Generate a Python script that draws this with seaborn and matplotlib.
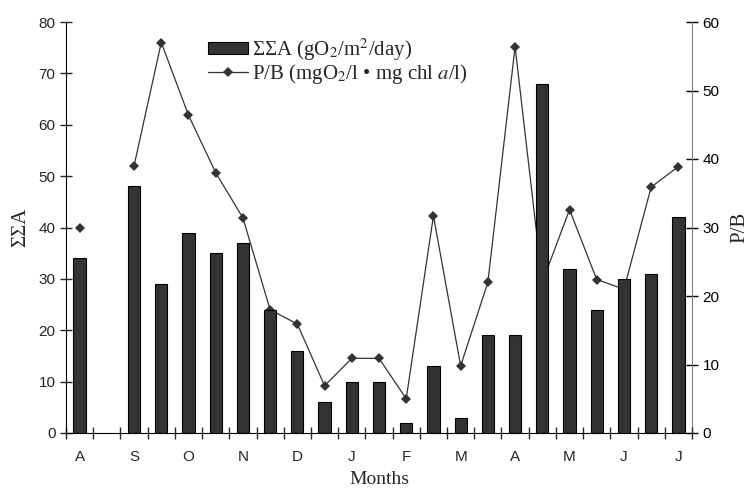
import numpy as np
import pandas as pd
import matplotlib.pyplot as plt
import seaborn as sns
from matplotlib.lines import Line2D
from matplotlib.patches import Patch

# 23 half-month slots, month letter on every other slot
SLOTS = list(range(23))
MONTHS = ["A", "S", "O", "N", "D", "J", "F", "M", "A", "M", "J", "J"]

# sum of assimilation (left axis), no sample in slot 1
SSA_SLOTS = [0, 2, 3, 4, 5, 6, 7, 8, 9, 10, 11, 12, 13, 14, 15, 16, 17, 18, 19, 20, 21, 22]
SSA = [34, 48, 29, 39, 35, 37, 24, 16, 6, 10, 10, 2, 13, 3, 19, 19, 68, 32, 24, 30, 31, 42]

# P/B ratio (right axis); slot 0 stands alone, the rest is one run
PB_SLOTS = [0, 2, 3, 4, 5, 6, 7, 8, 9, 10, 11, 12, 13, 14, 15, 16, 17, 18, 19, 20, 21, 22]
PB = [30, 39, 57, 46.4, 38, 31.4, 18, 15.9, 6.9, 10.9, 10.9, 5.0, 31.7, 9.8, 22, 56.4,
      22, 32.6, 22.4, 21, 35.9, 38.9]
PB_RUN = [0] + [1] * 21

sns.set_style("ticks")
plt.rcParams["font.family"] = ["Liberation Serif", "DejaVu Serif"]
plt.rcParams["mathtext.fontset"] = "stix"

bars = pd.DataFrame({"slot": SSA_SLOTS, "ssa": SSA})
line = pd.DataFrame({"slot": PB_SLOTS, "pb": PB, "run": PB_RUN})

fig = plt.figure(figsize=(7.52, 4.91), dpi=100)
ax = fig.add_axes([66 / 752, 1 - 433 / 491, 626 / 752, 411 / 491])
ax2 = ax.twinx()

sns.barplot(data=bars, x="slot", y="ssa", order=SLOTS, color="#333333",
            saturation=1, width=0.45, edgecolor="black", linewidth=0.8, ax=ax)
sns.lineplot(data=line, x="slot", y="pb", units="run", estimator=None,
             color="#333333", linewidth=0.9, marker="D", markersize=5.5,
             markeredgewidth=0, legend=False, ax=ax2)

# bars sit above the line
ax.set_zorder(ax2.get_zorder() + 1)
ax.patch.set_visible(False)

for a in (ax, ax2):
    a.set_xlim(-0.5, 22.5)
ax.set_ylim(0, 80)
ax2.set_ylim(0, 60)
ax.set_yticks(range(0, 81, 10))
ax2.set_yticks(range(0, 61, 10))

ax.set_xticks(range(0, 23, 2), labels=MONTHS)
ax.set_xticks(np.arange(-0.5, 23, 1), minor=True)
ax.tick_params(axis="x", which="major", length=0, pad=12)
ax.tick_params(axis="x", which="minor", length=8, direction="inout", width=1)
ax.tick_params(axis="y", length=8, direction="inout", width=1)
ax2.tick_params(axis="y", length=8, direction="inout", width=1, colors="black")

for lab in ax.get_xticklabels() + ax.get_yticklabels() + ax2.get_yticklabels():
    lab.set_fontfamily(["Liberation Sans", "DejaVu Sans"])
    lab.set_fontsize(11)

ax.set_xlabel("Months", fontsize=14, labelpad=5)
ax.set_ylabel("ΣΣA", fontsize=15, labelpad=6)
ax2.set_ylabel("P/B", fontsize=15, labelpad=8)

for a in (ax, ax2):
    a.spines["top"].set_visible(False)
ax.spines["right"].set_visible(False)
ax2.spines["left"].set_visible(False)
ax2.spines["bottom"].set_visible(False)
ax2.spines["right"].set_color("#808080")
ax.spines["left"].set_color("black")
ax.spines["bottom"].set_color("black")

handles = [
    Patch(facecolor="#333333", edgecolor="black", linewidth=0.8),
    Line2D([], [], color="#333333", linewidth=0.9, marker="D", markersize=5,
           markeredgewidth=0),
]
labels = ["ΣΣA (gO$_2$/m$^2$/day)", "P/B (mgO$_2$/l • mg chl $a$/l)"]
ax.legend(handles, labels, loc="upper left", bbox_to_anchor=(0.2268, 0.965),
          frameon=False, fontsize=15, handlelength=1.92, handleheight=0.5,
          handletextpad=0.2, labelspacing=-0.05, borderaxespad=0, borderpad=0)

fig.savefig("out.png", dpi=100)
